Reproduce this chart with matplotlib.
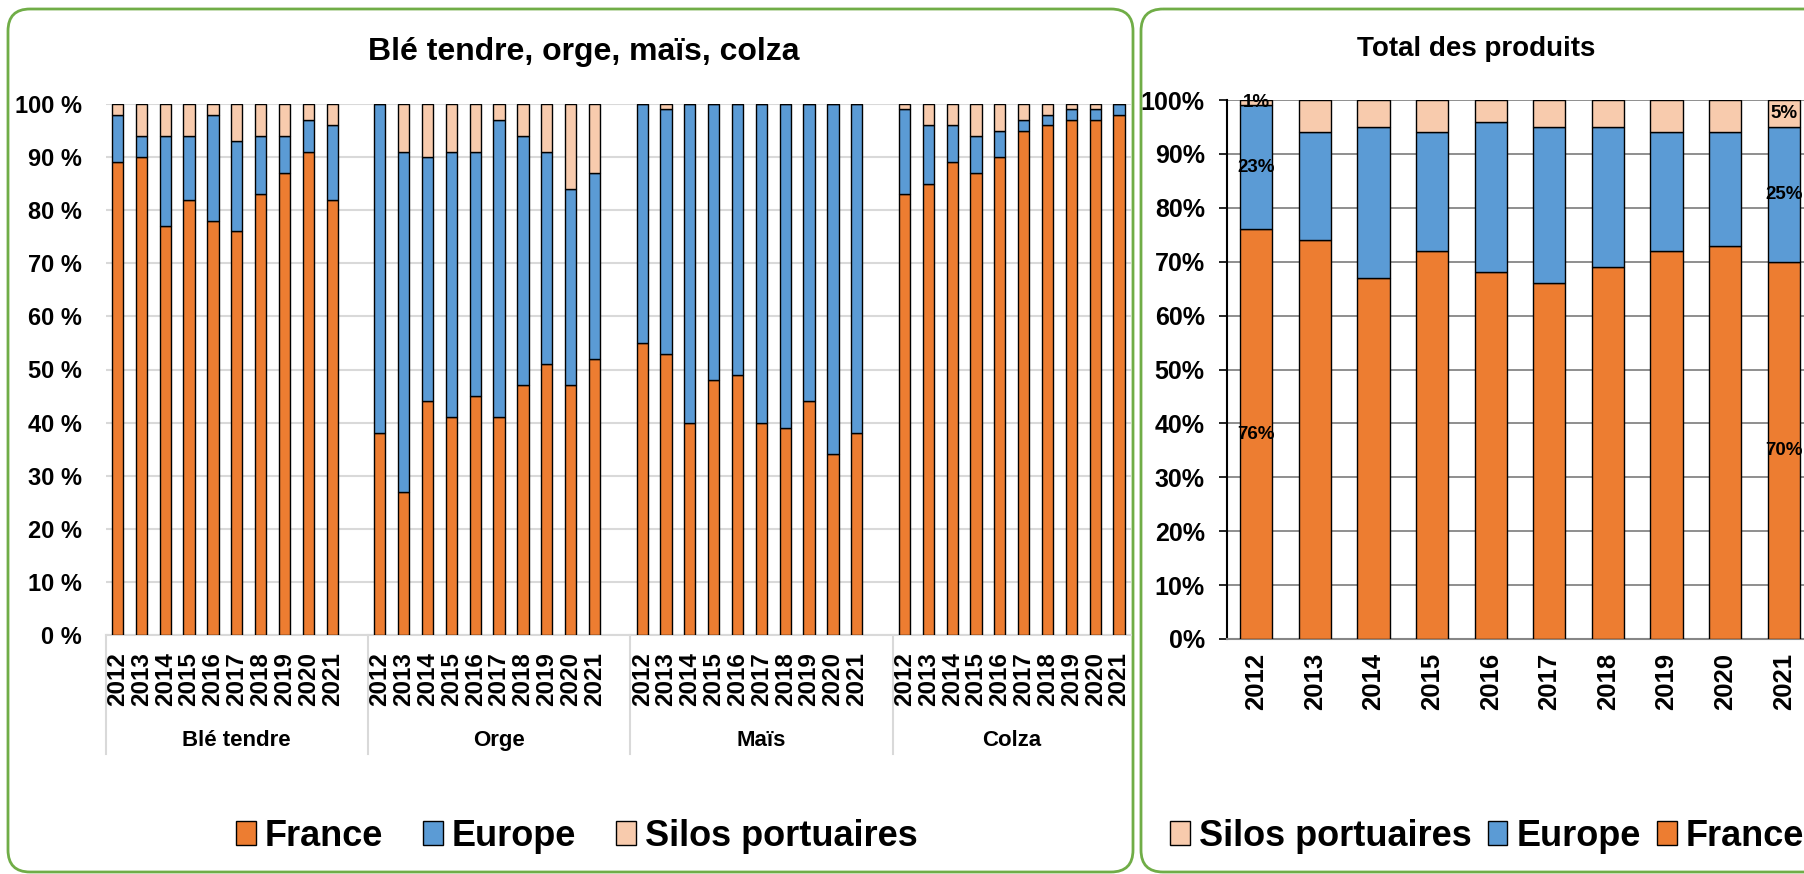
import numpy as np
import matplotlib
matplotlib.use("Agg")
import matplotlib.pyplot as plt
import matplotlib.transforms as mtransforms
from matplotlib.patches import FancyBboxPatch, Patch

plt.rcParams['font.family'] = ['Liberation Sans', 'DejaVu Sans']
plt.rcParams['font.weight'] = 'bold'

# --- data (parts in %) ---
years = ["2012", "2013", "2014", "2015", "2016", "2017", "2018", "2019", "2020", "2021"]
groups = ["Blé tendre", "Orge", "Maïs", "Colza"]

ble_fr = [89, 90, 77, 82, 78, 76, 83, 87, 91, 82]
ble_eu = [9, 4, 17, 12, 20, 17, 11, 7, 6, 14]
ble_si = [2, 6, 6, 6, 2, 7, 6, 6, 3, 4]

orge_fr = [38, 27, 44, 41, 45, 41, 47, 51, 47, 52]
orge_eu = [62, 64, 46, 50, 46, 56, 47, 40, 37, 35]
orge_si = [0, 9, 10, 9, 9, 3, 6, 9, 16, 13]

mais_fr = [55, 53, 40, 48, 49, 40, 39, 44, 34, 38]
mais_eu = [45, 46, 60, 52, 51, 60, 61, 56, 66, 62]
mais_si = [0, 1, 0, 0, 0, 0, 0, 0, 0, 0]

colza_fr = [83, 85, 89, 87, 90, 95, 96, 97, 97, 98]
colza_eu = [16, 11, 7, 7, 5, 2, 2, 2, 2, 2]
colza_si = [1, 4, 4, 6, 5, 3, 2, 1, 1, 0]

tot_fr = [76, 74, 67, 72, 68, 66, 69, 72, 73, 70]
tot_eu = [23, 20, 28, 22, 28, 29, 26, 22, 21, 25]
tot_si = [1, 6, 5, 6, 4, 5, 5, 6, 6, 5]
tot_labelled = ["2012", "2021"]

C_FR = "#ED7D31"
C_EU = "#5B9BD5"
C_SI = "#F8CBAD"
GREEN = "#70AD47"

W, H = 1804, 874
fig = plt.figure(figsize=(W / 100, H / 100), dpi=100)

# frames (pixel coordinates)
bg = fig.add_axes([0, 0, 1, 1])
bg.set_xlim(0, W)
bg.set_ylim(H, 0)
bg.axis("off")
for x0, x1 in [(8, 1133), (1141, 1840)]:
  bg.add_patch(FancyBboxPatch((x0, 9), x1 - x0, 863, boxstyle="round,pad=0,rounding_size=22",
                              fc="none", ec=GREEN, lw=2.0))

def px(x, y):
  return x / W, 1 - y / H

# ---------------- left chart ----------------
ax = fig.add_axes([105.6 / W, 1 - 635 / H, 1025.4 / W, 531 / H])
fr_all = [ble_fr, orge_fr, mais_fr, colza_fr]
eu_all = [ble_eu, orge_eu, mais_eu, colza_eu]
si_all = [ble_si, orge_si, mais_si, colza_si]

pos = []
fr, eu, si, labs = [], [], [], []
for g in range(len(groups)):
  for i in range(len(years)):
    pos.append(g * (len(years) + 1) + i)
    fr.append(fr_all[g][i])
    eu.append(eu_all[g][i])
    si.append(si_all[g][i])
    labs.append(years[i])
pos = np.array(pos)
fr, eu, si = np.array(fr), np.array(eu), np.array(si)

bw = 0.47
ax.bar(pos, fr, bw, color=C_FR, edgecolor="black", lw=1.0, zorder=3)
ax.bar(pos, eu, bw, bottom=fr, color=C_EU, edgecolor="black", lw=1.0, zorder=3)
ax.bar(pos, si, bw, bottom=fr + eu, color=C_SI, edgecolor="black", lw=1.0, zorder=3)

ax.set_xlim(-0.5, pos[-1] + 0.5)
ax.set_ylim(0, 100)
ax.set_yticks(np.arange(0, 101, 10))
ax.set_yticklabels([f"{v} %" for v in range(0, 101, 10)], fontsize=17, fontweight="bold")
ax.tick_params(axis="y", length=0, pad=17)
ax.set_xticks(pos)
ax.set_xticklabels(labs, rotation=90, fontsize=17.5, fontweight="bold")
ax.tick_params(axis="x", length=0, pad=12)
ax.yaxis.grid(True, color="#D9D9D9", lw=1.5, zorder=0)
for s in ["top", "right", "left"]:
  ax.spines[s].set_visible(False)
ax.spines["bottom"].set_color("#D9D9D9")
ax.spines["bottom"].set_linewidth(1.5)

trans = mtransforms.blended_transform_factory(ax.transData, ax.transAxes)
n = len(years) + 1
for g, name in enumerate(groups):
  left = g * n - 0.5
  right = min(left + n, pos[-1] + 0.5)
  ax.plot([left, left], [0, -0.224], color="#D9D9D9", lw=1.5, transform=trans, clip_on=False)
  ax.text((left + right) / 2, -0.198, name, transform=trans, ha="center", va="center",
          fontsize=16, fontweight="bold")

fig.text(*px(584, 52), "Blé tendre, orge, maïs, colza", ha="center", va="center",
         fontsize=23, fontweight="bold")

h_fr = Patch(fc=C_FR, ec="black", lw=1.0)
h_eu = Patch(fc=C_EU, ec="black", lw=1.0)
h_si = Patch(fc=C_SI, ec="black", lw=1.0)
leg_kw = dict(loc="center", ncol=3, frameon=False, handlelength=0.55, handleheight=0.65,
              handletextpad=0.25, columnspacing=1.1, borderpad=0,
              prop={"size": 26, "weight": "bold"})
fig.legend([h_fr, h_eu, h_si], ["France", "Europe", "Silos portuaires"],
           bbox_to_anchor=px(577, 836), **leg_kw)

# ---------------- right chart ----------------
ax2 = fig.add_axes([1227 / W, 1 - 639 / H, 586 / W, 539 / H])
x2 = np.arange(len(years))
tf, te, ts = np.array(tot_fr), np.array(tot_eu), np.array(tot_si)
bw2 = 0.55
ax2.bar(x2, tf, bw2, color=C_FR, edgecolor="black", lw=1.0, zorder=3)
ax2.bar(x2, te, bw2, bottom=tf, color=C_EU, edgecolor="black", lw=1.0, zorder=3)
ax2.bar(x2, ts, bw2, bottom=tf + te, color=C_SI, edgecolor="black", lw=1.0, zorder=3)
ax2.set_xlim(-0.5, len(years) - 0.5)
ax2.set_ylim(0, 100)
ax2.set_yticks(np.arange(0, 101, 10))
ax2.set_yticklabels([f"{v}%" for v in range(0, 101, 10)], fontsize=18, fontweight="bold")
ax2.tick_params(axis="y", length=6, width=1.2, pad=10, direction="out")
ax2.set_xticks(x2)
ax2.set_xticklabels(years, rotation=90, fontsize=18.5, fontweight="bold")
ax2.tick_params(axis="x", length=0, pad=10)
ax2.yaxis.grid(True, color="#868686", lw=1.3, zorder=0)
ax2.spines["top"].set_visible(False)
ax2.spines["right"].set_visible(False)
ax2.spines["left"].set_linewidth(1.5)
ax2.spines["bottom"].set_color("#868686")
ax2.spines["bottom"].set_linewidth(1.5)

for i, yr in enumerate(years):
  if yr not in tot_labelled:
    continue
  segs = [(tf[i], 0), (te[i], tf[i]), (ts[i], tf[i] + te[i])]
  for val, bot in segs:
    ax2.text(i, bot + val / 2, f"{val}%", ha="center", va="center", fontsize=13.5,
             fontweight="bold", zorder=5)

fig.text(*px(1476, 49), "Total des produits", ha="center", va="center",
         fontsize=20, fontweight="bold")
fig.legend([h_si, h_eu, h_fr], ["Silos portuaires", "Europe", "France"],
           bbox_to_anchor=px(1487, 836), **dict(leg_kw, columnspacing=0.45))

fig.savefig("out.png", dpi=100)
